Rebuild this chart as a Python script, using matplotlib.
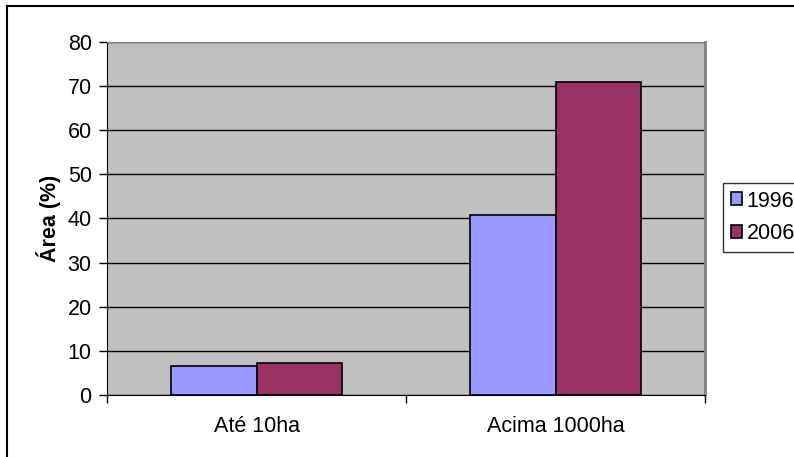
import matplotlib.pyplot as plt
import numpy as np
from matplotlib.lines import Line2D

# data
categories = ["Até 10ha", "Acima 1000ha"]
years = ["1996", "2006"]
area_1996 = [6.6, 40.8]
area_2006 = [7.3, 71.0]
yticks = [0, 10, 20, 30, 40, 50, 60, 70, 80]

plt.rcParams['font.family'] = ['Liberation Sans', 'DejaVu Sans']
FS = 15.5

fig = plt.figure(figsize=(7.94, 4.57), dpi=100)
ax = fig.add_axes([107/794, 1-395/457, (705-107)/794, (395-42)/457])
ax.set_facecolor('#C0C0C0')

x = np.arange(len(categories))
w = 0.285
b1 = ax.bar(x, area_1996, width=-w, align='edge', color='#9999FF', edgecolor='black', linewidth=1.2, zorder=3)
b2 = ax.bar(x, area_2006, width=w, align='edge', color='#993366', edgecolor='black', linewidth=1.2, zorder=3)

ax.set_xlim(-0.5, len(categories) - 0.5)
ax.set_ylim(0, 80)
ax.set_yticks(yticks)
ax.tick_params(axis='y', length=6, width=1, pad=5, labelsize=FS, direction='out')
ax.set_xticks(x)
ax.set_xticklabels(categories)
ax.tick_params(axis='x', which='major', length=0, pad=15, labelsize=FS)
ax.set_xticks(np.arange(len(categories) + 1) - 0.5, minor=True)
ax.tick_params(axis='x', which='minor', length=6, width=1, direction='out')

ax.yaxis.grid(True, color='black', linewidth=1)
ax.set_axisbelow(True)
ax.spines['left'].set_color('black')
ax.spines['bottom'].set_color('black')
ax.spines['top'].set_color('#808080')
ax.spines['right'].set_color('#808080')
ax.spines['right'].set_linewidth(2)

ax.set_ylabel('Área (%)', fontsize=FS, fontweight='bold', labelpad=5)

leg = fig.legend([b1, b2], years, loc='upper left',
                 bbox_to_anchor=(723/794, 1-183/457), fontsize=FS,
                 frameon=True, fancybox=False, edgecolor='black',
                 handlelength=0.55, handleheight=0.55, handletextpad=0.2,
                 borderpad=0.35, labelspacing=0.55, borderaxespad=0)
leg.get_frame().set_linewidth(1)

# outer chart border
fig.add_artist(Line2D([7/794, 1], [1-6/457, 1-6/457], color='black', linewidth=1.5))
fig.add_artist(Line2D([7/794, 7/794], [0, 1-6/457], color='black', linewidth=1.5))

fig.savefig('out.png', dpi=100)
